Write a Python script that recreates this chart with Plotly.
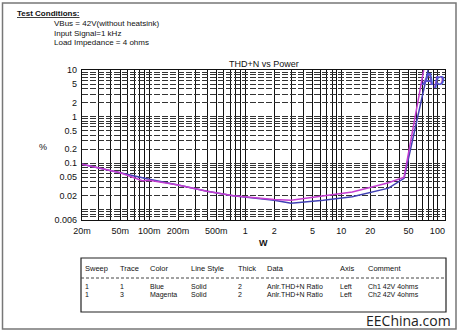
import math
import plotly.graph_objects as go

# THD+N vs output power, two channels
blue_power_w = [0.02, 0.05, 0.085, 0.1, 0.2, 0.4, 0.75, 1.1, 2, 3, 6.5, 13, 31, 45, 80]
blue_thdn_pct = [0.095, 0.062, 0.05, 0.045, 0.034, 0.025, 0.020, 0.0185, 0.016, 0.0138, 0.016, 0.019, 0.029, 0.047, 10]
magenta_power_w = [0.02, 0.05, 0.085, 0.1, 0.2, 0.4, 0.75, 1.1, 2, 3, 6.5, 13, 31, 45, 72]
magenta_thdn_pct = [0.095, 0.062, 0.042, 0.043, 0.034, 0.025, 0.020, 0.0185, 0.0165, 0.016, 0.020, 0.024, 0.038, 0.05, 10]

x_label_vals = [0.02, 0.05, 0.1, 0.2, 0.5, 1, 2, 5, 10, 20, 50, 100]
x_label_text = ["20m", "50m", "100m", "200m", "500m", "1", "2", "5", "10", "20", "50", "100"]
y_label_vals = [10, 5, 2, 1, 0.5, 0.2, 0.1, 0.05, 0.02, 0.006]
y_label_text = ["10", "5", "2", "1", "0.5", "0.2", "0.1", "0.05", "0.02", "0.006"]

table_header = ["Sweep", "Trace", "Color", "Line Style", "Thick", "Data", "Axis", "Comment"]
table_rows = [
    ["1", "1", "Blue", "Solid", "2", "Anlr.THD+N Ratio", "Left", "Ch1 42V 4ohms"],
    ["1", "3", "Magenta", "Solid", "2", "Anlr.THD+N Ratio", "Left", "Ch2 42V 4ohms"],
]
test_conditions = ["VBus = 42V(without heatsink)", "Input Signal=1 kHz", "Load Impedance = 4 ohms"]

X_MIN, X_MAX = 0.02, 120
Y_MIN, Y_MAX = 0.006, 10

# grid at every 1..9 multiple of each decade
def decade_multiples(lo, hi):
    vals = []
    for e in range(-3, 3):
        for m in range(1, 10):
            v = m * 10 ** e
            if lo * 0.999 <= v <= hi * 1.001:
                vals.append(round(v, 6))
    return vals

x_grid = decade_multiples(X_MIN, X_MAX)
y_grid = decade_multiples(Y_MIN, Y_MAX) + [Y_MIN]

def label_for(v, vals, texts):
    for lv, t in zip(vals, texts):
        if abs(lv - v) / lv < 1e-6:
            return t
    return ""

FONT = "Liberation Sans, Arial, sans-serif"
W, H = 460, 332
L, R, T, B = 82, 15, 70, 112
PW, PH = W - L - R, H - T - B

def px(xp):
    return (xp - L) / PW

def py(yp):
    return (H - B - yp) / PH

fig = go.Figure()
fig.add_trace(go.Scatter(x=blue_power_w, y=blue_thdn_pct, mode="lines",
                         line=dict(color="#4040b4", width=1.5), showlegend=False))
fig.add_trace(go.Scatter(x=magenta_power_w, y=magenta_thdn_pct, mode="lines",
                         line=dict(color="#c43cd0", width=1.5), showlegend=False))

fig.update_layout(
    width=W, height=H,
    margin=dict(l=L, r=R, t=T, b=B),
    paper_bgcolor="white", plot_bgcolor="white",
    font=dict(family=FONT, size=8, color="#111"),
    xaxis=dict(
        type="log", range=[math.log10(X_MIN), math.log10(X_MAX)],
        tickmode="array", tickvals=x_grid,
        ticktext=[label_for(v, x_label_vals, x_label_text) for v in x_grid],
        showgrid=True, gridcolor="#111", gridwidth=1.4,
        ticks="", ticklabelstandoff=2, tickfont=dict(size=9),
        showline=True, linecolor="#111", linewidth=1.2, mirror=True, zeroline=False,
    ),
    yaxis=dict(
        type="log", range=[math.log10(Y_MIN), math.log10(Y_MAX)],
        tickmode="array", tickvals=y_grid,
        ticktext=[label_for(v, y_label_vals, y_label_text) for v in y_grid],
        showgrid=True, gridcolor="#333", gridwidth=1, griddash="6px,2px",
        ticks="", ticklabelstandoff=2, tickfont=dict(size=9),
        showline=True, linecolor="#111", linewidth=1.2, mirror=True, zeroline=False,
    ),
)


def note(text, xp, yp, size=8, xanchor="left", yanchor="middle", **font):
    return dict(text=text, x=px(xp), y=py(yp), xref="paper", yref="paper",
                xanchor=xanchor, yanchor=yanchor, showarrow=False,
                font=dict(size=size, **font))


ann = []
# chart title and axis titles
ann.append(dict(text="THD+N vs Power", x=0.5, y=1.0, xref="paper", yref="paper",
                xanchor="center", yanchor="bottom", yshift=-1, showarrow=False,
                font=dict(size=9, color="#111")))
ann.append(note("%", 43, 147, size=9, xanchor="center"))
ann.append(note("<b>W</b>", 263, 243, size=9, xanchor="center"))
# Ap logo
ann.append(note("<b><i>Ap</i></b>", 447, 79, size=17, xanchor="right", color="#5a4fd0"))
# test conditions block
ann.append(note("<b><u>Test Conditions:</u></b>", 15, 13, size=8))
for i, line in enumerate(test_conditions):
    ann.append(note(line, 52, 23.5 + 9.5 * i, size=8))

# legend table
col_x = [83, 118, 148, 189, 236, 265, 338, 366]
for cx, h in zip(col_x, table_header):
    ann.append(note(h, cx, 268, size=7.5))
for r, row in enumerate(table_rows):
    for cx, cell in zip(col_x, row):
        ann.append(note(cell, cx, 286.5 + 8 * r, size=7))

ann.append(note("EEChina.com", 453, 320, size=14, xanchor="right",
                family="Open Sans, Noto Sans, sans-serif", color="#222"))
fig.update_layout(annotations=ann)

shapes = [
    dict(type="rect", xref="paper", yref="paper", x0=px(81), x1=px(446), y0=py(312), y1=py(258),
         line=dict(color="#222", width=1.2)),
    dict(type="line", xref="paper", yref="paper", x0=px(81), x1=px(446), y0=py(278), y1=py(278),
         line=dict(color="#444", width=1, dash="3px,2px")),
    dict(type="rect", xref="paper", yref="paper", x0=px(2.5), x1=px(456), y0=py(329), y1=py(3),
         line=dict(color="#777", width=1.5)),
]
fig.update_layout(shapes=shapes)

fig.write_html("out.html")
